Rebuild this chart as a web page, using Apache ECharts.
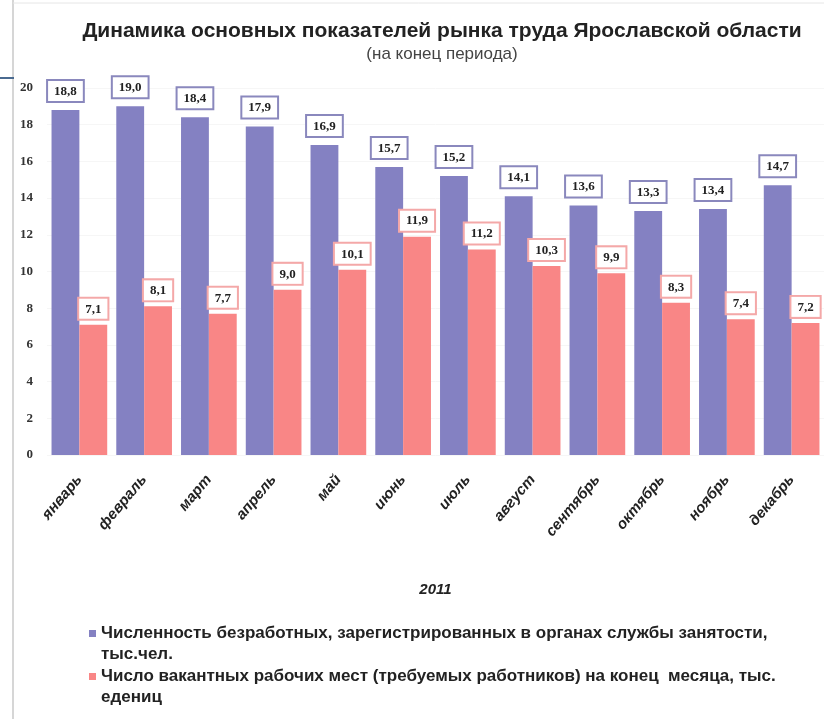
<!DOCTYPE html>
<html><head><meta charset="utf-8">
<script src="https://cdn.jsdelivr.net/npm/echarts@6/dist/echarts.min.js"></script>
<style>html,body{margin:0;padding:0;background:#fff}#c{width:824px;height:719px}</style>
</head><body><div id="c"></div>
<script>
const categories = ['январь','февраль','март','апрель','май','июнь','июль','август','сентябрь','октябрь','ноябрь','декабрь'];
const unemployed = [18.8,19.0,18.4,17.9,16.9,15.7,15.2,14.1,13.6,13.3,13.4,14.7];
const vacancies = [7.1,8.1,7.7,9.0,10.1,11.9,11.2,10.3,9.9,8.3,7.4,7.2];
const seriesNames = [
  'Численность безработных, зарегистрированных в органах службы занятости,\nтыс.чел.',
  'Число вакантных рабочих мест (требуемых работников) на конец  месяца, тыс.\nедениц'
];
const chart = echarts.init(document.getElementById('c'));
const fmt = p => p.value.toFixed(1).replace('.', ',');
const lbl = (border, dist) => ({
  show: true, position: 'top', distance: dist, formatter: fmt,
  fontFamily: 'Liberation Serif, serif', fontWeight: 'bold', fontSize: 13, color: '#222',
  backgroundColor: '#fff', borderColor: border, borderWidth: 2, padding: [4, 6, 3, 6]
});
const legendText = {fontFamily: 'Liberation Sans, sans-serif', fontWeight: 'bold', fontSize: 17, color: '#222', lineHeight: 21};
const legendBase = {itemWidth: 7, itemHeight: 7, icon: 'rect', selectedMode: false, itemGap: 4,
  textStyle: legendText, formatter: n => '\n' + n};
chart.setOption({
  animation: false,
  backgroundColor: '#fff',
  title: {
    text: 'Динамика основных показателей рынка труда Ярославской области',
    subtext: '(на конец периода)',
    left: 437, textAlign: 'center', top: 16, itemGap: 4,
    textStyle: {fontFamily: 'Liberation Sans, sans-serif', fontWeight: 'bold', fontSize: 21, color: '#222'},
    subtextStyle: {fontFamily: 'Liberation Sans, sans-serif', fontSize: 17, color: '#444'}
  },
  legend: [
    Object.assign({data: [seriesNames[0]], left: 84, top: 597}, legendBase),
    Object.assign({data: [seriesNames[1]], left: 84, top: 640}, legendBase)
  ],
  grid: {left: 47, right: -7, top: 88, bottom: 264},
  xAxis: {
    type: 'category', data: categories,
    name: '2011', nameLocation: 'middle', nameGap: 127,
    nameTextStyle: {fontFamily: 'Liberation Sans, sans-serif', fontStyle: 'italic', fontWeight: 'bold', fontSize: 15, color: '#222'},
    axisLine: {show: false}, axisTick: {show: false},
    axisLabel: {rotate: 50, margin: 22, interval: 0, fontFamily: 'Liberation Sans, sans-serif', fontStyle: 'italic', fontWeight: 'bold', fontSize: 15, color: '#222'}
  },
  yAxis: {
    type: 'value', min: 0, max: 20, interval: 2,
    axisLine: {show: false}, axisTick: {show: false},
    splitLine: {show: true, lineStyle: {color: '#f6f6f6'}},
    axisLabel: {margin: 14, fontFamily: 'Liberation Serif, serif', fontWeight: 'bold', fontSize: 13, color: '#333'}
  },
  series: [
    {name: seriesNames[0], type: 'bar', data: unemployed, barGap: '0%', barCategoryGap: '14%',
     itemStyle: {color: '#8481c2'}, label: lbl('#8a88bd', 9)},
    {name: seriesNames[1], type: 'bar', data: vacancies,
     itemStyle: {color: '#f98686'}, label: lbl('#f4a8a8', 6)}
  ],
  graphic: [
    {type: 'line', shape: {x1: 13, y1: 0, x2: 13, y2: 719}, style: {stroke: '#c8c8c8', lineWidth: 1.5}},
    {type: 'line', shape: {x1: 13, y1: 3, x2: 824, y2: 3}, style: {stroke: '#e6e6e6', lineWidth: 1}},
    {type: 'line', shape: {x1: 0, y1: 78, x2: 14, y2: 78}, style: {stroke: '#4a6a90', lineWidth: 2}}
  ]
});
</script></body></html>
